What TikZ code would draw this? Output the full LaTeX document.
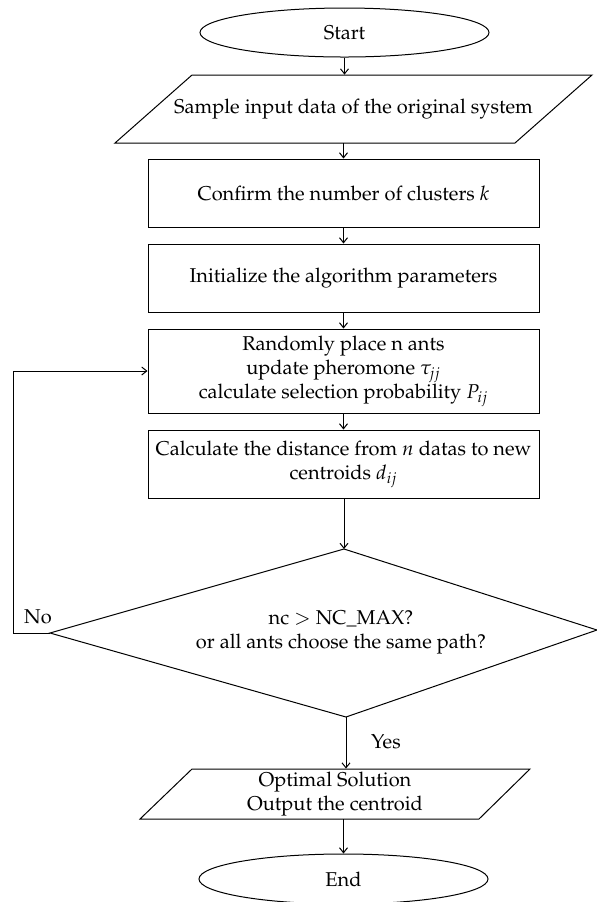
\documentclass[tikz,border=0pt]{standalone}
\usepackage[T1]{fontenc}
\usepackage{mathpazo}
\usetikzlibrary{shapes.geometric,arrows.meta,calc}

\begin{document}
\begin{tikzpicture}[x=0.5pt,y=-0.5pt]
	\tikzset{every node/.style={font=\fontsize{10}{12}\selectfont,align=center,inner sep=0pt},
		box/.style={draw,line width=0.5pt,minimum width=195.5pt,minimum height=34pt},
		term/.style={draw,ellipse,line width=0.5pt,minimum width=144.5pt,minimum height=24.5pt},
		edge/.style={line width=0.5pt},
		flow/.style={line width=0.5pt,-{Straight Barb[length=2.5pt,width=4pt]}}}
	\useasboundingbox (0,0) rectangle (597,902);
	% nodes
	\node[term] (start) at (344.5,32.5) {Start};
	\node[minimum height=34pt] (in) at (353.5,109) {Sample input data of the original system};
	\draw[edge] (192,75) -- (592,75) -- (515,143) -- (115,143) -- cycle;
	\node[box] (confirm) at (343.5,193) {Confirm the number of clusters $k$};
	\node[box] (init) at (343.5,278) {Initialize the algorithm parameters};
	\node[box,minimum height=42pt] (rand) at (343.5,371) {Randomly place n ants\\ update pheromone $\tau_{jj}$\\ calculate selection probability $P_{ij}$};
	\node[box] (calc) at (343.5,464) {Calculate the distance from $n$ datas to new\\ centroids $d_{ij}$};
	% decision
	\coordinate (dT) at (344,549);
	\coordinate (dR) at (597,630);
	\coordinate (dB) at (346,717);
	\coordinate (dL) at (50,633);
	\draw[edge] (dT) -- (dR) -- (dB) -- (dL) -- cycle;
	\node (cond) at (341,632) {nc $>$ NC\_MAX?\\ or all ants choose the same path?};
	\node[minimum height=25pt] (out) at (335,794) {Optimal Solution\\ Output the centroid};
	\draw[edge] (192,769) -- (530,769) -- (479,819) -- (140,819) -- cycle;
	\node[term,minimum height=25pt] (stop) at (343.5,879) {End};
	\node (no) at (38,617) {No};
	\node (yes) at (386,742) {Yes};
	\coordinate (back) at (13,633);
	% connectors
	\draw[flow] (start.south) -- (start.south |- in.north);
	\draw[flow] (confirm.north |- in.south) -- (confirm.north);
	\draw[flow] (confirm) -- (init);
	\draw[flow] (init) -- (rand);
	\draw[flow] (rand) -- (calc);
	\draw[flow] (calc.south -| dT) -- (dT);
	\draw[flow] (dB) -- (dB |- out.north);
	\draw[flow] (out.south -| stop) -- (stop.north);
	\draw[flow] (dL) -- (back) |- (rand.west);
\end{tikzpicture}
\end{document}
